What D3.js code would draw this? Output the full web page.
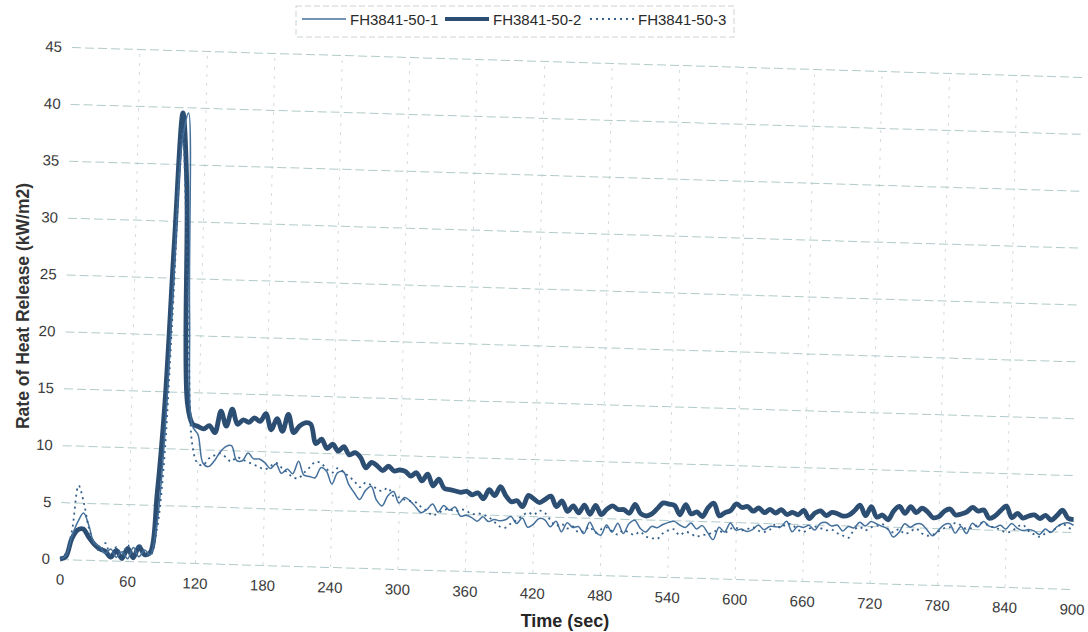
<!DOCTYPE html>
<html>
<head>
<meta charset="utf-8">
<script src="https://cdn.jsdelivr.net/npm/d3@7"></script>
<style>
   body { margin: 0; background: #fff; }
   svg { display: block; font-family: "Liberation Sans", Arial, sans-serif; }
</style>
</head>
<body>
<svg id="chart" width="1088" height="632"></svg>
<script>
'use strict';

// time in seconds, one reading every 5 s
const times = d3.range(0, 901, 5);
const xTicks = d3.range(0, 901, 60);
const yTicks = d3.range(0, 46, 5);
const seriesNames = ['FH3841-50-1', 'FH3841-50-2', 'FH3841-50-3'];

// rate of heat release, kW/m2
const rhr1 = [
   0, 0.3, 2.0, 3.3, 4.1, 3.0, 1.5, 1.2, 0.6, 1.0,
   0.3, 0.8, 0.2, 1.2, 0.4, 1.0, 0.6, 3.0, 10, 24,
   37, 39.5, 22, 12.0, 11.3, 8.8, 8.5, 9.0, 9.8, 10.3,
   10.4, 9.1, 9.1, 9.8, 9.3, 9.3, 9.0, 8.5, 8.9, 8.1,
   8.5, 8.1, 9.2, 8.0, 7.9, 7.8, 8.7, 8.4, 7.3, 8.3,
   8.4, 7.3, 6.6, 6.0, 6.8, 7.2, 6.0, 5.5, 6.4, 6.8,
   5.8, 6.3, 6.0, 5.5, 5.0, 5.3, 5.8, 5.1, 5.7, 5.3,
   5.6, 4.8, 4.9, 4.7, 4.4, 4.8, 4.4, 4.6, 4.5, 4.6,
   4.9, 4.3, 4.8, 4.0, 4.3, 4.8, 4.7, 4.1, 4.6, 3.7,
   4.5, 4.1, 4.2, 3.6, 4.6, 3.8, 3.5, 4.4, 3.8, 4.6,
   3.7, 4.6, 4.9, 4.2, 3.9, 4.4, 4.3, 4.6, 4.8, 4.9,
   4.6, 4.4, 4.8, 4.3, 4.6, 4.0, 3.4, 4.5, 4.1, 4.9,
   4.3, 4.4, 4.2, 4.4, 4.8, 4.4, 4.7, 4.7, 4.7, 5.2,
   4.3, 4.8, 4.7, 4.9, 4.5, 5.1, 5.2, 4.9, 5.0, 4.5,
   4.9, 4.8, 5.3, 5.0, 5.4, 5.2, 5.0, 4.8, 4.1, 4.5,
   5.3, 5.0, 5.3, 5.3, 4.8, 4.3, 4.8, 5.3, 5.4, 4.6,
   5.2, 4.6, 5.5, 5.2, 5.7, 5.3, 5.2, 5.4, 5.1, 5.6,
   5.2, 5.0, 5.1, 5.0, 4.7, 5.2, 4.9, 5.4, 5.7, 5.8,
   5.6
];

const rhr2 = [
   0, 0.2, 1.8, 2.6, 2.7, 2.0, 1.4, 1.0, 0.8, 0.3,
   0.9, 0.2, 1.1, 0.3, 1.3, 0.6, 0.8, 6, 14, 28,
   39.5, 33, 14, 12.2, 12.0, 11.8, 12.1, 11.5, 13.4, 12.1,
   13.6, 12.3, 12.7, 12.5, 12.9, 12.6, 13.3, 11.9, 12.9, 11.8,
   13.3, 11.7, 12.3, 12.6, 12.5, 10.8, 11.2, 10.4, 10.8, 10.2,
   10.6, 9.9, 10.1, 9.7, 8.8, 9.3, 9.0, 8.6, 9.0, 8.6,
   8.7, 8.6, 8.2, 8.5, 7.8, 8.4, 7.4, 8.0, 7.2, 7.1,
   7.0, 6.9, 7.0, 6.7, 6.9, 6.4, 7.2, 6.7, 7.5, 6.7,
   6.2, 6.3, 5.8, 6.8, 6.5, 6.2, 6.5, 6.8, 5.9, 6.4,
   5.5, 6.0, 5.4, 6.1, 5.3, 6.1, 5.3, 5.8, 6.1, 5.8,
   5.8, 5.5, 6.3, 5.5, 5.3, 5.5, 6.0, 6.5, 6.4, 6.3,
   5.5, 6.4, 5.6, 5.8, 5.4, 6.2, 6.6, 5.5, 5.8, 6.0,
   6.6, 6.3, 6.4, 6.0, 6.3, 5.9, 6.2, 5.9, 6.2, 5.8,
   6.0, 5.8, 6.2, 5.5, 6.0, 6.2, 5.8, 6.1, 6.0, 5.8,
   5.9, 6.3, 6.8, 5.9, 6.7, 5.8, 6.0, 5.6, 6.4, 6.8,
   6.2, 6.8, 6.3, 6.7, 6.4, 5.9, 6.0, 6.5, 6.7, 6.2,
   6.3, 6.5, 6.9, 6.6, 6.7, 6.0, 6.2, 6.7, 7.1, 6.1,
   6.5, 6.1, 6.3, 6.4, 6.1, 6.4, 6.0, 6.4, 6.9, 6.2,
   6.1
];

const rhr3 = [
   0, 0.5, 2.5, 6.5, 5.0, 2.8, 1.5, 0.8, 1.5, 0.4,
   1.2, 0.5, 1.4, 0.6, 1.5, 0.8, 0.5, 2.5, 8.0, 22,
   38, 30, 19, 10.5, 8.8, 8.6, 9.2, 9.5, 9.7, 9.4,
   9.0, 9.4, 9.2, 9.0, 8.8, 8.6, 8.4, 8.7, 9.0, 8.6,
   8.2, 7.8, 7.7, 8.2, 8.7, 9.2, 9.1, 8.6, 8.3, 8.7,
   8.4, 8.0, 7.6, 7.1, 7.5, 7.3, 7.0, 6.8, 7.1, 6.4,
   6.3, 6.1, 6.0, 5.9, 5.5, 5.2, 4.8, 5.0, 5.3, 5.4,
   5.2, 5.4, 5.3, 5.0, 5.1, 5.0, 4.8, 4.4, 4.0, 3.9,
   4.3, 4.6, 5.0, 5.3, 5.1, 5.5, 5.3, 4.7, 4.2, 4.4,
   4.0, 4.2, 3.7, 3.8, 4.2, 3.7, 4.0, 4.2, 3.9, 3.6,
   4.0, 3.8, 3.6, 3.9, 3.5, 3.4, 3.3, 3.8, 4.1, 4.2,
   3.7, 4.0, 3.9, 3.6, 3.8, 3.8, 4.1, 4.2, 4.0, 4.4,
   4.5, 4.3, 4.4, 4.6, 4.3, 4.2, 4.4, 4.9, 4.6, 5.0,
   4.9, 4.5, 4.3, 4.6, 4.8, 4.7, 4.5, 4.6, 4.3, 4.1,
   3.9, 4.6, 4.9, 4.6, 4.9, 5.0, 5.2, 4.8, 4.5, 4.8,
   4.4, 4.6, 4.9, 4.5, 4.3, 4.4, 4.7, 5.0, 5.1, 5.5,
   5.3, 5.0, 5.1, 5.4, 5.6, 5.3, 5.2, 5.0, 4.8, 4.9,
   5.3, 5.5, 5.0, 4.7, 4.5, 4.8, 5.0, 5.3, 5.7, 5.4,
   5.2
];

const svg = d3.select('#chart'),
   plotW = 1012,
   plotH = 512;

const x = d3.scaleLinear().domain([0, 900]).range([0, plotW]);
const y = d3.scaleLinear().domain([0, 45]).range([plotH, 0]);

// the scanned page is a little skewed, so the whole plot is too
const plot = svg.append('g')
   .attr('transform', 'matrix(1,0.0296,-0.0234,1,72,47)');

const xAxis = plot.append('g')
   .attr('transform', `translate(0,${plotH})`)
   .call(d3.axisBottom(x).tickValues(xTicks).tickSize(-plotH).tickPadding(15));

xAxis.select('.domain').remove();
xAxis.selectAll('.tick line')
   .attr('stroke', '#d3dddd')
   .attr('stroke-dasharray', '3,6')
   .attr('opacity', d => (d === 0 || d === 900) ? 0 : 1);
xAxis.selectAll('.tick text')
   .attr('font-size', 15)
   .attr('fill', '#3a3a3a');

const yAxis = plot.append('g')
   .call(d3.axisLeft(y).tickValues(yTicks).tickSize(-plotW).tickPadding(10));

yAxis.select('.domain').remove();
yAxis.selectAll('.tick line')
   .attr('stroke', '#b2caca')
   .attr('stroke-dasharray', '9,4');
yAxis.selectAll('.tick text')
   .attr('font-size', 15)
   .attr('fill', '#3a3a3a');

const styles = [
   { color: '#44709b', width: 1.5, dash: null },
   { color: '#2d4e73', width: 4.8, dash: null },
   { color: '#36618c', width: 1.8, dash: '2,4' }
];

const line = d3.line()
   .x((d, i) => x(times[i]))
   .y(d => y(d))
   .curve(d3.curveCatmullRom.alpha(0.5));

// thick run first, the lighter ones sit on top of it
[1, 0, 2].forEach(function (k) {
   plot.append('path')
      .datum([rhr1, rhr2, rhr3][k])
      .attr('fill', 'none')
      .attr('stroke', styles[k].color)
      .attr('stroke-width', styles[k].width)
      .attr('stroke-dasharray', styles[k].dash)
      .attr('stroke-linejoin', 'round')
      .attr('d', line);
});

// axis titles
svg.append('text')
   .attr('x', 565)
   .attr('y', 627)
   .attr('text-anchor', 'middle')
   .attr('font-size', 18)
   .attr('font-weight', 'bold')
   .attr('fill', '#262626')
   .text('Time (sec)');

svg.append('text')
   .attr('transform', 'translate(29,306) rotate(-90)')
   .attr('text-anchor', 'middle')
   .attr('font-size', 17.5)
   .attr('font-weight', 'bold')
   .attr('fill', '#333')
   .text('Rate of Heat Release (kW/m2)');

// legend
const legend = svg.append('g');

legend.append('rect')
   .attr('x', 296)
   .attr('y', 6)
   .attr('width', 438)
   .attr('height', 31)
   .attr('fill', 'none')
   .attr('stroke', '#ccd4d4')
   .attr('stroke-dasharray', '6,3');

const legendX = [302, 445, 590];

const items = legend.selectAll('g.item')
   .data(seriesNames)
   .join('g')
   .attr('class', 'item')
   .attr('transform', (d, i) => `translate(${legendX[i]},0)`);

items.append('line')
   .attr('x1', 0)
   .attr('x2', 44)
   .attr('y1', 19)
   .attr('y2', 19)
   .attr('stroke', (d, i) => styles[i].color)
   .attr('stroke-width', (d, i) => Math.min(styles[i].width, 4))
   .attr('stroke-dasharray', (d, i) => styles[i].dash);

items.append('text')
   .attr('x', 48)
   .attr('y', 25)
   .attr('font-size', 15)
   .attr('fill', '#2a2a2a')
   .text(d => d);
</script>
</body>
</html>
